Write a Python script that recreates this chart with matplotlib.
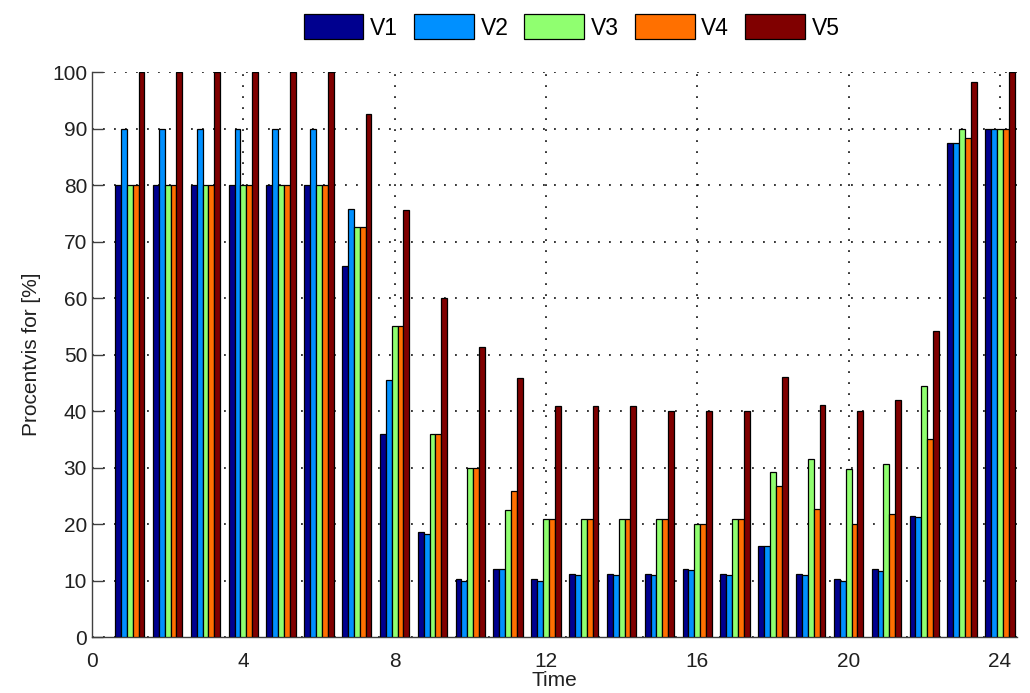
import matplotlib
import numpy as np

matplotlib.use('Agg')
import matplotlib.pyplot as plt

plt.rcParams['font.family'] = ['Liberation Sans', 'DejaVu Sans']

# hourly shares per variant, hours 1..24
hours = np.arange(1, 25)
v1 = [80, 80, 80, 80, 80, 80, 65.7, 36, 18.5, 10.2, 12, 10.2,
      11.1, 11.1, 11.1, 12, 11.1, 16.1, 11.1, 10.2, 12, 21.4, 87.5, 90]
v2 = [90, 90, 90, 90, 90, 90, 75.7, 45.5, 18.3, 10, 12, 10,
      10.9, 10.9, 10.9, 11.8, 10.9, 16.1, 10.9, 10, 11.7, 21.3, 87.5, 90]
v3 = [80, 80, 80, 80, 80, 80, 72.5, 55, 36, 30, 22.5, 20.8,
      20.8, 20.8, 20.8, 20, 20.8, 29.2, 31.5, 29.8, 30.6, 44.4, 90, 90]
v4 = [80, 80, 80, 80, 80, 80, 72.5, 55, 36, 30, 25.8, 20.8,
      20.8, 20.8, 20.8, 20, 20.8, 26.7, 22.7, 20, 21.7, 35, 88.3, 90]
v5 = [100, 100, 100, 100, 100, 100, 92.5, 75.5, 60, 51.4, 45.8, 40.8,
      40.8, 40.8, 40, 40, 40, 46, 41, 40, 41.9, 54.1, 98.3, 100]

series = [v1, v2, v3, v4, v5]
labels = ['V1', 'V2', 'V3', 'V4', 'V5']
colors = ['#00008F', '#0090FF', '#90FF70', '#FF7000', '#800000']

BAR_W = 0.155

fig = plt.figure(figsize=(10.3, 6.93), dpi=100)
ax = fig.add_axes([0.0893, 0.0808, 0.898, 0.8153])

for i, (vals, lab, col) in enumerate(zip(series, labels, colors)):
    offs = (i - 2) * BAR_W
    ax.bar(hours + offs, vals, width=BAR_W, color=col, edgecolor='black',
           linewidth=0.9, label=lab, zorder=3)

ax.set_xlim(0, 24.45)
ax.set_ylim(0, 100)
ax.set_xticks(np.arange(0, 25, 4))
ax.set_yticks(np.arange(0, 101, 10))
ax.set_axisbelow(True)
ax.grid(True, color='black', linestyle=(0, (1.2, 6)), linewidth=1.1)

for side in ['top', 'right']:
    ax.spines[side].set_visible(False)
for side in ['left', 'bottom']:
    ax.spines[side].set_color('#404040')
    ax.spines[side].set_linewidth(1.0)

ax.tick_params(direction='in', length=8, width=1, colors='#404040',
               labelcolor='#202020', labelsize=15)
ax.tick_params(axis='x', length=0, pad=11)

ax.set_xlabel('Time', fontsize=15, labelpad=0, color='#202020')
ax.set_ylabel('Procentvis for [%]', fontsize=15, labelpad=8, color='#202020')

fig.legend(loc='center', bbox_to_anchor=(0.555, 0.961), ncol=5, frameon=False,
           fontsize=16.5, handlelength=2.6, handleheight=1.3, handletextpad=0.3,
           columnspacing=0.7)

fig.savefig('out.png', dpi=100)
